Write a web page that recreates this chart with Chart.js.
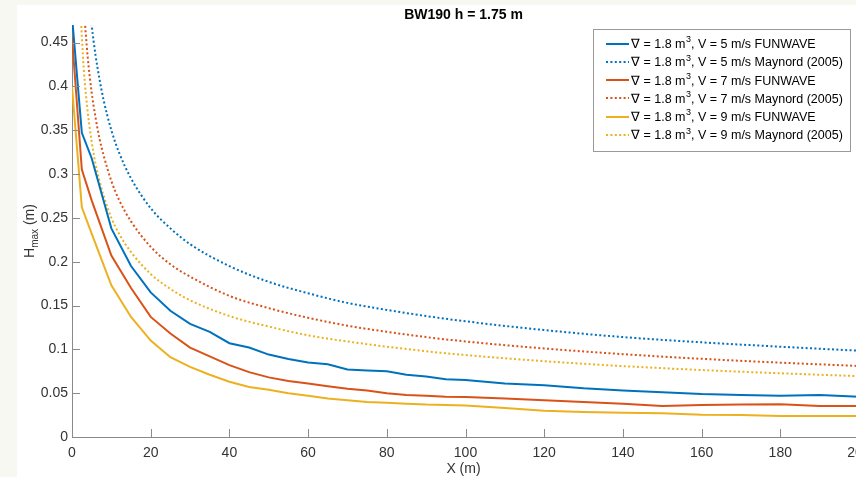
<!DOCTYPE html>
<html>
<head>
<meta charset="utf-8">
<script src="https://cdn.jsdelivr.net/npm/chart.js@4.4.0/dist/chart.umd.min.js"></script>
<style>
  html, body { margin: 0; padding: 0; width: 856px; height: 477px; overflow: hidden; background: #f7f8f2; }
  #wrap { position: absolute; left: 17px; top: 5px; width: 860px; height: 480px; background: #fff; }
  canvas { display: block; }
</style>
</head>
<body>
<div id="wrap"><canvas id="chart" width="842" height="472"></canvas></div>
<script>
"use strict";

const chartTitle = "BW190 h = 1.75 m";
const xLabel = "X (m)";

// FUNWAVE runs (solid lines)
const xFun = [0, 2.5, 5, 10, 15, 20, 25, 30, 35, 40, 45, 50, 55, 60, 65, 70, 75, 80, 85, 90, 95, 100,
  110, 120, 130, 140, 150, 160, 170, 180, 190, 200];
const fun5 = [0.48, 0.347, 0.318, 0.238, 0.195, 0.165, 0.144, 0.129, 0.120, 0.107, 0.102, 0.094, 0.089, 0.085,
  0.083, 0.077, 0.076, 0.075, 0.071, 0.069, 0.066, 0.065, 0.061, 0.059, 0.0555, 0.053, 0.051, 0.049, 0.048,
  0.047, 0.048, 0.046];
const fun7 = [0.456, 0.305, 0.27, 0.207, 0.170, 0.137, 0.118, 0.102, 0.092, 0.082, 0.074, 0.068, 0.064, 0.061,
  0.058, 0.055, 0.053, 0.050, 0.048, 0.047, 0.046, 0.0455, 0.044, 0.042, 0.040, 0.038, 0.0355, 0.0365, 0.037,
  0.0375, 0.0355, 0.0355];
const fun9 = [0.40, 0.262, 0.232, 0.173, 0.137, 0.110, 0.091, 0.080, 0.071, 0.063, 0.057, 0.054, 0.050, 0.047,
  0.044, 0.042, 0.040, 0.039, 0.038, 0.037, 0.0365, 0.036, 0.033, 0.030, 0.0285, 0.0278, 0.027, 0.0255, 0.025,
  0.024, 0.024, 0.024];

// Maynord (2005) estimates (dotted lines)
const xMay = [2, 3, 4, 5, 6, 7, 8, 10, 12, 15, 20, 25, 30, 40, 50, 60, 70, 80, 90, 100, 120, 140, 160, 180, 200];
const may5 = [null, null, 0.517, 0.470, 0.435, 0.408, 0.385, 0.350, 0.324, 0.295, 0.261, 0.238, 0.220, 0.195,
  0.177, 0.164, 0.153, 0.145, 0.138, 0.132, 0.122, 0.114, 0.108, 0.103, 0.0984];
const may7 = [null, 0.489, 0.433, 0.393, 0.364, 0.340, 0.322, 0.292, 0.270, 0.246, 0.217, 0.197, 0.183, 0.161,
  0.147, 0.136, 0.127, 0.120, 0.114, 0.109, 0.101, 0.0945, 0.0892, 0.0848, 0.081];
const may9 = [0.499, 0.419, 0.371, 0.337, 0.311, 0.292, 0.276, 0.250, 0.2315, 0.211, 0.186, 0.169, 0.156, 0.138,
  0.126, 0.116, 0.109, 0.103, 0.0978, 0.0935, 0.0865, 0.0809, 0.0764, 0.0727, 0.0694];

const seriesLabels = [
  "∇ = 1.8 m³, V = 5 m/s FUNWAVE",
  "∇ = 1.8 m³, V = 5 m/s Maynord (2005)",
  "∇ = 1.8 m³, V = 7 m/s FUNWAVE",
  "∇ = 1.8 m³, V = 7 m/s Maynord (2005)",
  "∇ = 1.8 m³, V = 9 m/s FUNWAVE",
  "∇ = 1.8 m³, V = 9 m/s Maynord (2005)",
];

const BLUE = "#0072BD";
const RED = "#D95319";
const YELLOW = "#EDB120";
const AXIS = "#8a8a8a";
const TEXT = "#333333";
const FONT = '"Liberation Sans", Arial, Helvetica, sans-serif';
const DOTS = [2, 2.4];

const toPoints = (xs, ys) => xs.map((x, i) => ({ x, y: ys[i] }));

const solid = (label, xs, ys, color) => ({
  label, data: toPoints(xs, ys), borderColor: color, backgroundColor: color,
  borderWidth: 2, pointRadius: 0, tension: 0,
});
const dotted = (label, xs, ys, color) => ({
  label, data: toPoints(xs, ys), borderColor: color, backgroundColor: color,
  borderWidth: 2, borderDash: DOTS, pointRadius: 0, cubicInterpolationMode: "monotone",
});

const datasets = [
  solid(seriesLabels[0], xFun, fun5, BLUE),
  dotted(seriesLabels[1], xMay, may5, BLUE),
  solid(seriesLabels[2], xFun, fun7, RED),
  dotted(seriesLabels[3], xMay, may7, RED),
  solid(seriesLabels[4], xFun, fun9, YELLOW),
  dotted(seriesLabels[5], xMay, may9, YELLOW),
];

// text with a raised "3" for the superscript
const drawSupText = (ctx, text, x, y, size) => {
  const parts = text.split("³");
  ctx.font = size + "px " + FONT;
  ctx.fillText(parts[0], x, y);
  x += ctx.measureText(parts[0]).width;
  if (parts.length > 1) {
    ctx.font = Math.round(size * 0.7) + "px " + FONT;
    ctx.fillText("3", x + 0.5, y - size * 0.38);
    x += ctx.measureText("3").width + 0.5;
    ctx.font = size + "px " + FONT;
    ctx.fillText(parts[1], x, y);
  }
};

const decorPlugin = {
  id: "decor",
  afterDraw(chart) {
    const { ctx, chartArea: area } = chart;
    const xs = chart.scales.x;
    const ys = chart.scales.y;
    ctx.save();

    // inward tick marks
    ctx.strokeStyle = AXIS;
    ctx.lineWidth = 1;
    ctx.beginPath();
    ys.ticks.forEach((t) => {
      const py = Math.round(ys.getPixelForValue(t.value)) + 0.5;
      ctx.moveTo(area.left, py);
      ctx.lineTo(area.left + 8, py);
    });
    xs.ticks.forEach((t) => {
      const px = Math.round(xs.getPixelForValue(t.value)) + 0.5;
      ctx.moveTo(px, area.bottom);
      ctx.lineTo(px, area.bottom - 8);
    });
    ctx.stroke();

    const midX = (area.left + area.right) / 2;

    // title
    ctx.fillStyle = "#000";
    ctx.font = "bold 14px " + FONT;
    ctx.textAlign = "center";
    ctx.textBaseline = "middle";
    ctx.fillText(chartTitle, midX - 2, 10);

    // x axis label
    ctx.fillStyle = TEXT;
    ctx.font = "14px " + FONT;
    ctx.fillText(xLabel, midX - 2, 464);

    // y axis label: H with subscript "max"
    ctx.save();
    ctx.translate(12, (area.top + area.bottom) / 2);
    ctx.rotate(-Math.PI / 2);
    ctx.textAlign = "left";
    ctx.textBaseline = "alphabetic";
    ctx.font = "14px " + FONT;
    const wH = ctx.measureText("H").width;
    const wM = ctx.measureText(" (m)").width;
    ctx.font = "10px " + FONT;
    const wSub = ctx.measureText("max").width;
    let lx = -(wH + wSub + wM) / 2;
    ctx.font = "14px " + FONT;
    ctx.fillText("H", lx, 5);
    lx += wH;
    ctx.font = "10px " + FONT;
    ctx.fillText("max", lx, 9);
    lx += wSub;
    ctx.font = "14px " + FONT;
    ctx.fillText(" (m)", lx, 5);
    ctx.restore();

    // legend box inside the axes, top right
    const box = { left: 576, top: 24, right: 833, bottom: 146 };
    ctx.fillStyle = "#fff";
    ctx.fillRect(box.left, box.top, box.right - box.left, box.bottom - box.top);
    ctx.strokeStyle = "#9a9a9a";
    ctx.lineWidth = 1;
    ctx.strokeRect(box.left + 0.5, box.top + 0.5, box.right - box.left, box.bottom - box.top);

    ctx.textAlign = "left";
    ctx.textBaseline = "middle";
    chart.data.datasets.forEach((ds, i) => {
      const cy = 38.5 + i * 18.3;
      ctx.strokeStyle = ds.borderColor;
      ctx.lineWidth = 2;
      ctx.setLineDash(ds.borderDash || []);
      ctx.beginPath();
      ctx.moveTo(589, Math.round(cy));
      ctx.lineTo(612, Math.round(cy));
      ctx.stroke();
      ctx.setLineDash([]);
      ctx.fillStyle = "#000";
      drawSupText(ctx, ds.label, 614, cy + 1, 12.5);
    });

    ctx.restore();
  },
};

new Chart(document.getElementById("chart"), {
  type: "line",
  data: { datasets },
  plugins: [decorPlugin],
  options: {
    responsive: false,
    animation: false,
    layout: { padding: { top: 20, right: 0, bottom: 0, left: 0 } },
    plugins: {
      legend: { display: false },
      title: { display: false },
      tooltip: { enabled: false },
    },
    scales: {
      x: {
        type: "linear",
        min: 0,
        max: 200,
        afterFit: (s) => { s.height = 40; s.paddingLeft = 0; s.paddingRight = 0; },
        ticks: {
          stepSize: 20,
          padding: 8,
          color: TEXT,
          maxRotation: 0,
          autoSkip: false,
          font: { family: FONT, size: 14 },
        },
        grid: { display: false, drawTicks: false },
        border: { display: true, color: AXIS, width: 1 },
      },
      y: {
        type: "linear",
        min: 0,
        max: 0.47,
        afterFit: (s) => { s.width = 55; s.paddingTop = 0; s.paddingBottom = 0; },
        ticks: {
          stepSize: 0.05,
          includeBounds: false,
          padding: 4,
          color: TEXT,
          font: { family: FONT, size: 14 },
          callback: (v) => String(Math.round(v * 100) / 100),
        },
        grid: { display: false, drawTicks: false },
        border: { display: true, color: AXIS, width: 1 },
      },
    },
  },
});
</script>
</body>
</html>
